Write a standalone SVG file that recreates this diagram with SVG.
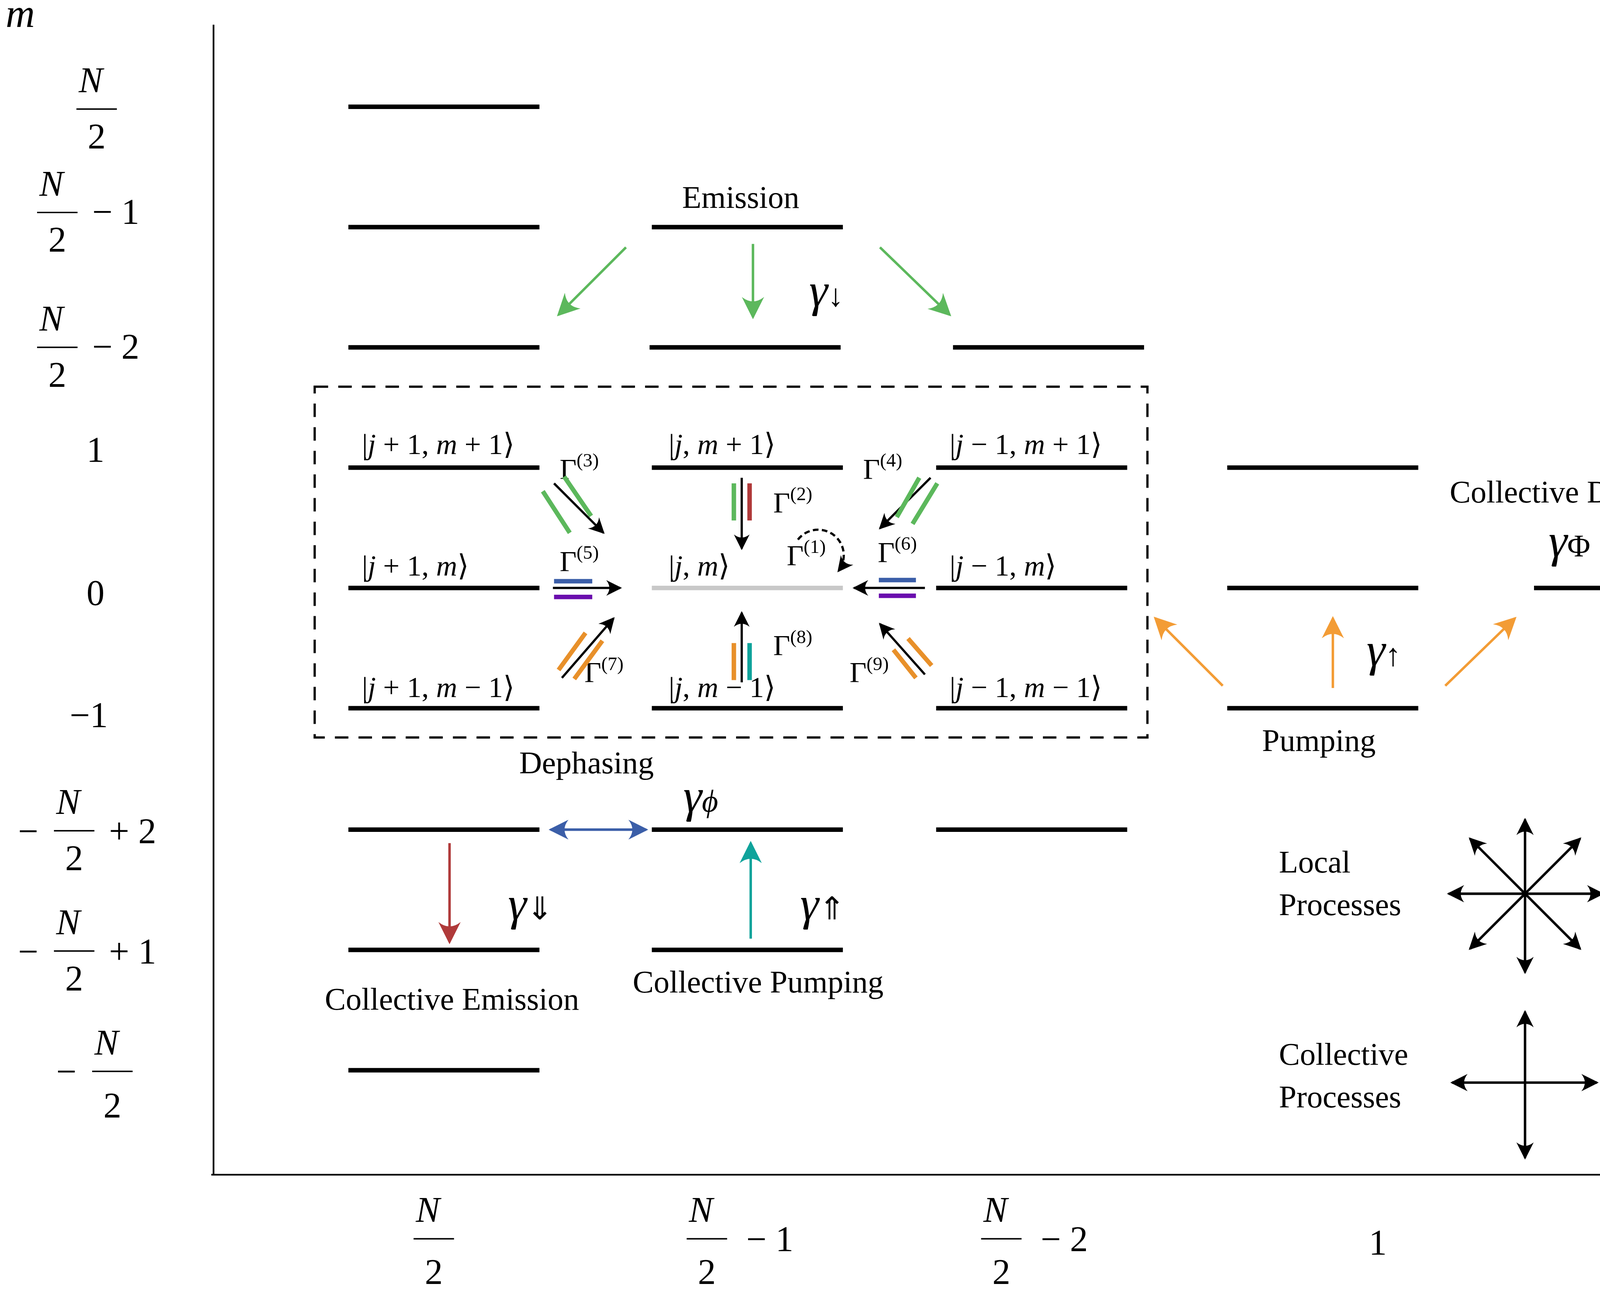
<svg xmlns="http://www.w3.org/2000/svg" width="4511" height="3327" viewBox="0 0 4511 3327">
<defs>
<style>
.t{font-family:"Liberation Serif",serif;fill:#000}
.i{font-style:italic}
.lv{stroke:#000;stroke-width:4;fill:none}
.ax{stroke:#000;stroke-width:1.5;fill:none}
.fr{stroke:#000;stroke-width:1.3}
</style>
<marker id="mk" viewBox="0 0 10 10" refX="9" refY="5" markerWidth="7" markerHeight="7" orient="auto-start-reverse" markerUnits="strokeWidth"><path d="M0,0 Q4,5 0,10 L10,5 Z" fill="#000"/></marker>
<marker id="mg" viewBox="0 0 10 10" refX="9" refY="5" markerWidth="9" markerHeight="9" orient="auto" markerUnits="strokeWidth"><path d="M0,0 Q4,5 0,10 L10,5 Z" fill="#5cb85c"/></marker>
<marker id="mo" viewBox="0 0 10 10" refX="9" refY="5" markerWidth="9" markerHeight="9" orient="auto" markerUnits="strokeWidth"><path d="M0,0 Q4,5 0,10 L10,5 Z" fill="#f39c35"/></marker>
<marker id="mb" viewBox="0 0 10 10" refX="9" refY="5" markerWidth="8" markerHeight="8" orient="auto-start-reverse" markerUnits="strokeWidth"><path d="M0,0 Q4,5 0,10 L10,5 Z" fill="#3b5ea8"/></marker>
<marker id="mr" viewBox="0 0 10 10" refX="9" refY="5" markerWidth="9" markerHeight="9" orient="auto" markerUnits="strokeWidth"><path d="M0,0 Q4,5 0,10 L10,5 Z" fill="#b03a3a"/></marker>
<marker id="mt" viewBox="0 0 10 10" refX="9" refY="5" markerWidth="9" markerHeight="9" orient="auto" markerUnits="strokeWidth"><path d="M0,0 Q4,5 0,10 L10,5 Z" fill="#0fa39b"/></marker>
<marker id="mp" viewBox="0 0 10 10" refX="9" refY="5" markerWidth="9" markerHeight="9" orient="auto" markerUnits="strokeWidth"><path d="M0,0 Q4,5 0,10 L10,5 Z" fill="#6a0dad"/></marker>
</defs>
<rect width="4511" height="3327" fill="#fff"/>
<g transform="scale(2.877)">
<g id="axes">
<line class="ax" x1="190" y1="22" x2="190" y2="1045"/>
<line class="ax" x1="188" y1="1045" x2="1555" y2="1045"/>
<text class="t i" x="5" y="24" font-size="36">m</text>
<text class="t i" x="1545" y="1145" font-size="36">j</text>
</g>
<g id="ylabels" class="t" font-size="32">
<text class="i" x="70" y="82">N</text><line class="fr" x1="68" y1="97" x2="104" y2="97"/><text x="78" y="132">2</text>
<text class="i" x="35" y="174">N</text><line class="fr" x1="33" y1="189" x2="69" y2="189"/><text x="43" y="224">2</text><text x="82" y="199">− 1</text>
<text class="i" x="35" y="294">N</text><line class="fr" x1="33" y1="309" x2="69" y2="309"/><text x="43" y="344">2</text><text x="82" y="319">− 2</text>
<text x="77" y="411">1</text>
<text x="77" y="538">0</text>
<text x="62" y="647">−1</text>
<text x="16" y="750">−</text><text class="i" x="50" y="724">N</text><line class="fr" x1="48" y1="739" x2="84" y2="739"/><text x="58" y="774">2</text><text x="97" y="750">+ 2</text>
<text x="16" y="857">−</text><text class="i" x="50" y="831">N</text><line class="fr" x1="48" y1="846" x2="84" y2="846"/><text x="58" y="881">2</text><text x="97" y="857">+ 1</text>
<text x="50" y="964">−</text><text class="i" x="84" y="938">N</text><line class="fr" x1="82" y1="953" x2="118" y2="953"/><text x="92" y="994">2</text>
</g>
<g id="xlabels" class="t" font-size="32">
<text class="i" x="370" y="1087">N</text><line class="fr" x1="368" y1="1102" x2="404" y2="1102"/><text x="378" y="1142">2</text>
<text class="i" x="613" y="1087">N</text><line class="fr" x1="611" y1="1102" x2="647" y2="1102"/><text x="621" y="1142">2</text><text x="664" y="1113">− 1</text>
<text class="i" x="875" y="1087">N</text><line class="fr" x1="873" y1="1102" x2="909" y2="1102"/><text x="883" y="1142">2</text><text x="926" y="1113">− 2</text>
<text x="1218" y="1116">1</text>
<text x="1432" y="1116">0</text>
</g>
<g id="levels">
<path class="lv" d="M310,95H480M310,202H480M310,309H480M310,416H480M310,523H480M310,630H480M310,738H480M310,845H480M310,952H480"/>
<path class="lv" d="M580,202H750M578,309H748M580,416H750M580,630H750M580,738H750M580,845H750"/>
<line x1="580" y1="523" x2="750" y2="523" stroke="#c8c8c8" stroke-width="4"/>
<path class="lv" d="M848,309H1018M833,416H1003M833,523H1003M833,630H1003M833,738H1003"/>
<path class="lv" d="M1092,416H1262M1092,523H1262M1092,630H1262M1365,523H1535"/>
</g>
<g id="box"><rect x="280" y="344" width="741" height="312" fill="none" stroke="#000" stroke-width="2" stroke-dasharray="12,9"/></g>
<g id="kets" class="t" font-size="26">
<text x="322" y="404">|<tspan class="i">j</tspan> + 1, <tspan class="i">m</tspan> + 1⟩</text>
<text x="595" y="404">|<tspan class="i">j</tspan>, <tspan class="i">m</tspan> + 1⟩</text>
<text x="845" y="404">|<tspan class="i">j</tspan> − 1, <tspan class="i">m</tspan> + 1⟩</text>
<text x="322" y="512">|<tspan class="i">j</tspan> + 1, <tspan class="i">m</tspan>⟩</text>
<text x="595" y="512">|<tspan class="i">j</tspan>, <tspan class="i">m</tspan>⟩</text>
<text x="845" y="512">|<tspan class="i">j</tspan> − 1, <tspan class="i">m</tspan>⟩</text>
<text x="322" y="620">|<tspan class="i">j</tspan> + 1, <tspan class="i">m</tspan> − 1⟩</text>
<text x="595" y="620">|<tspan class="i">j</tspan>, <tspan class="i">m</tspan> − 1⟩</text>
<text x="845" y="620">|<tspan class="i">j</tspan> − 1, <tspan class="i">m</tspan> − 1⟩</text>
</g>
<g id="gammas" class="t" font-size="26">
<text x="498" y="426">Γ<tspan font-size="17" dy="-11">(3)</tspan></text>
<text x="688" y="456">Γ<tspan font-size="17" dy="-11">(2)</tspan></text>
<text x="768" y="426">Γ<tspan font-size="17" dy="-11">(4)</tspan></text>
<text x="700" y="503">Γ<tspan font-size="17" dy="-11">(1)</tspan></text>
<text x="498" y="508">Γ<tspan font-size="17" dy="-11">(5)</tspan></text>
<text x="781" y="500">Γ<tspan font-size="17" dy="-11">(6)</tspan></text>
<text x="520" y="607">Γ<tspan font-size="17" dy="-11">(7)</tspan></text>
<text x="688" y="583">Γ<tspan font-size="17" dy="-11">(8)</tspan></text>
<text x="756" y="607">Γ<tspan font-size="17" dy="-11">(9)</tspan></text>
</g>
<g id="connectors">
<g stroke-width="2" stroke="#000" fill="none" marker-end="url(#mk)">
<line x1="493" y1="430" x2="537" y2="474"/>
<line x1="660" y1="425" x2="660" y2="488"/>
<line x1="828" y1="425" x2="783" y2="470"/>
<line x1="492" y1="523" x2="552" y2="523"/>
<line x1="823" y1="523" x2="760" y2="523"/>
<line x1="500" y1="603" x2="546" y2="550"/>
<line x1="660" y1="607" x2="660" y2="545"/>
<line x1="823" y1="600" x2="783" y2="555"/>
<path d="M710,480 A22,22 0 1 1 746,508" stroke-dasharray="5,3"/>
</g>
<g stroke-width="4" fill="none">
<line x1="483" y1="437" x2="507" y2="474" stroke="#5cb85c"/>
<line x1="502" y1="424" x2="526" y2="459" stroke="#5cb85c"/>
<line x1="653" y1="430" x2="653" y2="463" stroke="#5cb85c"/>
<line x1="667" y1="430" x2="667" y2="463" stroke="#b03a3a"/>
<line x1="818" y1="425" x2="798" y2="460" stroke="#5cb85c"/>
<line x1="834" y1="430" x2="812" y2="466" stroke="#5cb85c"/>
<line x1="493" y1="517" x2="527" y2="517" stroke="#3b5ea8"/>
<line x1="493" y1="531" x2="527" y2="531" stroke="#6a0dad"/>
<line x1="782" y1="516" x2="815" y2="516" stroke="#3b5ea8"/>
<line x1="782" y1="530" x2="815" y2="530" stroke="#6a0dad"/>
<line x1="497" y1="596" x2="521" y2="563" stroke="#e8902a"/>
<line x1="511" y1="604" x2="536" y2="570" stroke="#e8902a"/>
<line x1="653" y1="572" x2="653" y2="605" stroke="#e8902a"/>
<line x1="667" y1="572" x2="667" y2="605" stroke="#0fa39b"/>
<line x1="795" y1="578" x2="815" y2="603" stroke="#e8902a"/>
<line x1="808" y1="568" x2="829" y2="592" stroke="#e8902a"/>
</g>
<g stroke-width="2.2" fill="none">
<line x1="557" y1="220" x2="497" y2="280" stroke="#5cb85c" marker-end="url(#mg)"/>
<line x1="670" y1="217" x2="670" y2="282" stroke="#5cb85c" marker-end="url(#mg)"/>
<line x1="783" y1="220" x2="845" y2="280" stroke="#5cb85c" marker-end="url(#mg)"/>
<line x1="1088" y1="610" x2="1028" y2="550" stroke="#f39c35" marker-end="url(#mo)"/>
<line x1="1186" y1="612" x2="1186" y2="550" stroke="#f39c35" marker-end="url(#mo)"/>
<line x1="1286" y1="610" x2="1348" y2="550" stroke="#f39c35" marker-end="url(#mo)"/>
<line x1="490" y1="738" x2="575" y2="738" stroke="#3b5ea8" marker-start="url(#mb)" marker-end="url(#mb)"/>
<line x1="400" y1="750" x2="400" y2="838" stroke="#b03a3a" marker-end="url(#mr)"/>
<line x1="668" y1="835" x2="668" y2="750" stroke="#0fa39b" marker-end="url(#mt)"/>
<path d="M1440,492 A27,27 0 1 1 1500,492" stroke="#6a0dad" marker-end="url(#mp)"/>
</g>
<g stroke="#000" stroke-width="2.2" marker-end="url(#mk)">
<line x1="1357" y1="795" x2="1357" y2="729"/><line x1="1357" y1="795" x2="1357" y2="865"/>
<line x1="1357" y1="795" x2="1289" y2="795"/><line x1="1357" y1="795" x2="1426" y2="795"/>
<line x1="1357" y1="795" x2="1308" y2="746"/><line x1="1357" y1="795" x2="1406" y2="746"/>
<line x1="1357" y1="795" x2="1308" y2="844"/><line x1="1357" y1="795" x2="1406" y2="844"/>
<line x1="1357" y1="963" x2="1357" y2="900"/><line x1="1357" y1="963" x2="1357" y2="1030"/>
<line x1="1357" y1="963" x2="1292" y2="963"/><line x1="1357" y1="963" x2="1421" y2="963"/>
</g>
</g>
<g id="labels" class="t" font-size="28">
<text x="607" y="185">Emission</text>
<text class="i" x="720" y="272" font-size="42">γ<tspan font-style="normal" font-size="28">↓</tspan></text>
<text x="1123" y="668">Pumping</text>
<text class="i" x="1216" y="592" font-size="42">γ<tspan font-style="normal" font-size="28">↑</tspan></text>
<text x="1290" y="447">Collective Dephasing</text>
<text class="i" x="1378" y="495" font-size="42">γ<tspan font-style="normal" font-size="28">Φ</tspan></text>
<text x="462" y="688">Dephasing</text>
<text class="i" x="608" y="722" font-size="42">γ<tspan font-size="28">ϕ</tspan></text>
<text class="i" x="452" y="818" font-size="42">γ<tspan font-style="normal" font-size="28">⇓</tspan></text>
<text x="289" y="898">Collective Emission</text>
<text class="i" x="712" y="818" font-size="42">γ<tspan font-style="normal" font-size="28">⇑</tspan></text>
<text x="563" y="883">Collective Pumping</text>
<text x="1138" y="776">Local</text>
<text x="1138" y="814">Processes</text>
<text x="1138" y="947">Collective</text>
<text x="1138" y="985">Processes</text>
</g>
</g>
</svg>
